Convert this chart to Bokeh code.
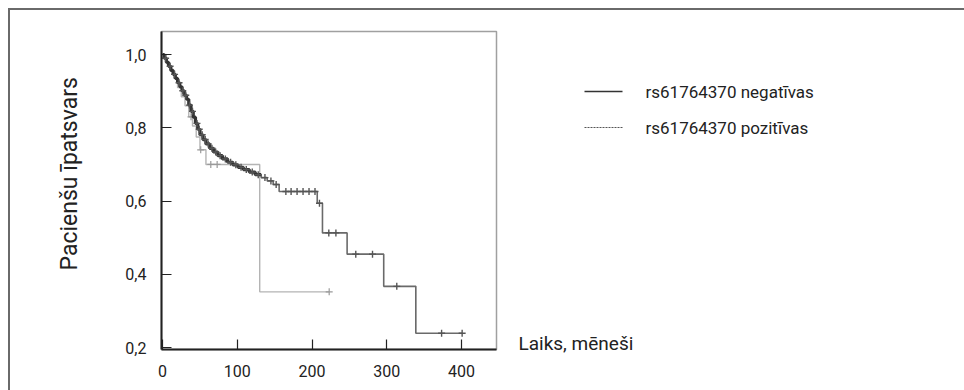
from bokeh.plotting import figure
from bokeh.layouts import row
from bokeh.models import Range1d, FixedTicker, CustomJSTickFormatter, Title
from bokeh.core.properties import value
from bokeh.embed import file_html
from bokeh.resources import INLINE
import numpy as np

# ---- data ----
neg_times = [0, 2, 5, 8, 11, 14, 17, 20, 23, 26, 29, 32, 35, 38, 41, 44, 47, 50, 54, 58,
             63, 68, 74, 80, 87, 94, 101, 108, 116, 124, 132, 140, 148, 156, 207, 214,
             247, 296, 339]
neg_surv = [1.0, 0.99, 0.979, 0.968, 0.957, 0.946, 0.935, 0.923, 0.912, 0.901, 0.889,
            0.878, 0.862, 0.845, 0.829, 0.812, 0.796, 0.781, 0.768, 0.756, 0.744, 0.734,
            0.724, 0.715, 0.706, 0.699, 0.692, 0.686, 0.679, 0.672, 0.664, 0.655, 0.645,
            0.626, 0.594, 0.513, 0.455, 0.367, 0.239]
neg_end = 401
neg_censor = [4, 10, 16, 22, 27, 31, 36, 40, 46, 49, 53, 57, 61, 66, 71, 77, 84, 91, 98,
              105, 112, 120, 128, 137, 145, 152, 165, 172, 180, 188, 196, 204, 210, 222.5,
              232, 258.6, 281, 313.5, 373.5, 401]

pos_times = [0, 5, 10, 15, 20, 25, 30, 35, 40, 45, 50, 58, 130]
pos_surv = [1.0, 0.975, 0.955, 0.935, 0.91, 0.885, 0.86, 0.83, 0.805, 0.775, 0.74, 0.70, 0.352]
pos_end = 223
pos_censor = [38, 51, 64.5, 73, 223]

x_ticks = [0, 100, 200, 300, 400]
y_ticks = [0.2, 0.4, 0.6, 0.8, 1.0]
legend_labels = ["rs61764370 negatīvas", "rs61764370 pozitīvas"]
x_title = "Laiks, mēneši"
y_title = "Pacienšu īpatsvars"

FONT = "Roboto"
TXT = "#222222"


def step_xy(times, surv, end):
    xs, ys = [], []
    for i, (t, s) in enumerate(zip(times, surv)):
        nxt = times[i + 1] if i + 1 < len(times) else end
        xs += [t, nxt]
        ys += [s, s]
    return xs, ys


def surv_at(times, surv, t):
    idx = np.searchsorted(np.array(times), t, side="right") - 1
    return [surv[i] for i in np.atleast_1d(idx)]


# ---------------- chart ----------------
p = figure(width=488, height=380, output_backend="svg", toolbar_location=None,
           x_range=Range1d(-1.5, 447), y_range=Range1d(0.1946, 1.063),
           min_border_left=151, min_border_top=21, min_border_bottom=41,
           min_border_right=2)
p.grid.visible = False
p.background_fill_color = "white"
p.border_fill_color = "white"
p.outline_line_color = "#a0a0a0"
p.outline_line_width = 1.5

for ax, ticks in ((p.xaxis[0], x_ticks), (p.yaxis[0], y_ticks)):
    ax.ticker = FixedTicker(ticks=ticks)
    ax.axis_line_color = TXT
    ax.axis_line_width = 2
    ax.major_tick_line_color = TXT
    ax.major_tick_line_width = 1.2
    ax.major_tick_in = 10
    ax.major_tick_out = 0
    ax.minor_tick_line_color = None
    ax.major_label_text_font = FONT
    ax.major_label_text_font_size = "16px"
    ax.major_label_text_color = TXT
    ax.major_label_standoff = 15
p.yaxis[0].formatter = CustomJSTickFormatter(
    code="return tick.toFixed(1).replace('.', ',');")

p.add_layout(Title(text=y_title, align="left", offset=79, standoff=80,
                   text_font=FONT, text_font_size="23px", text_font_style="normal",
                   text_color=TXT), "left")

# positive (light) first, then negative on top
px_, py_ = step_xy(pos_times, pos_surv, pos_end)
p.line(px_, py_, line_color="#b4b4b4", line_width=1.4)
p.scatter(pos_censor, surv_at(pos_times, pos_surv, pos_censor), marker="cross",
          size=7, line_color="#9a9a9a", line_width=1.2)

nx_, ny_ = step_xy(neg_times, neg_surv, neg_end)
p.line(nx_, ny_, line_color="#6a6a6a", line_width=1.6)
p.line(nx_[:60], ny_[:60], line_color="#333333", line_width=3.2)
p.scatter(neg_censor, surv_at(neg_times, neg_surv, neg_censor), marker="cross",
          size=7, line_color="#555555", line_width=1.4)

# ---------------- legend / x title panel (pixel-like coordinates) ----------------
s = figure(width=466, height=380, output_backend="svg", toolbar_location=None,
           x_range=Range1d(498, 964), y_range=Range1d(390, 10),
           x_axis_location=None, y_axis_location=None,
           min_border=0, min_border_left=0, min_border_right=0,
           min_border_top=0, min_border_bottom=0)
if "frame_align" in s.properties():
    s.frame_align = False
    p.frame_align = False
else:
    # frame gets aligned with the chart frame (page y 31..349)
    s.y_range = Range1d(349, 31)
s.grid.visible = False
s.outline_line_color = None
s.background_fill_color = "white"
s.border_fill_color = "white"

s.segment(x0=[584], y0=[91], x1=[622], y1=[91], line_color="#333333", line_width=1.4)
s.segment(x0=[584], y0=[127], x1=[622], y1=[127], line_color="#555555",
          line_width=1.2, line_dash="2 1")
s.text(x=[645, 645], y=[91, 127], text=legend_labels, text_font=value(FONT),
       text_font_size=value("17px"), text_color=TXT, text_baseline="middle",
       text_align="left")
s.text(x=[518], y=[343], text=[x_title], text_font=value(FONT),
       text_font_size=value("19px"), text_color=TXT, text_baseline="middle",
       text_align="left")

layout = row(p, s, spacing=0)
layout.styles = {"margin-left": "8px", "margin-top": "8px",
                 "border-top": "2px solid #6a6a6a", "border-left": "2px solid #6a6a6a"}

open("out.html", "w").write(file_html(layout, INLINE))
